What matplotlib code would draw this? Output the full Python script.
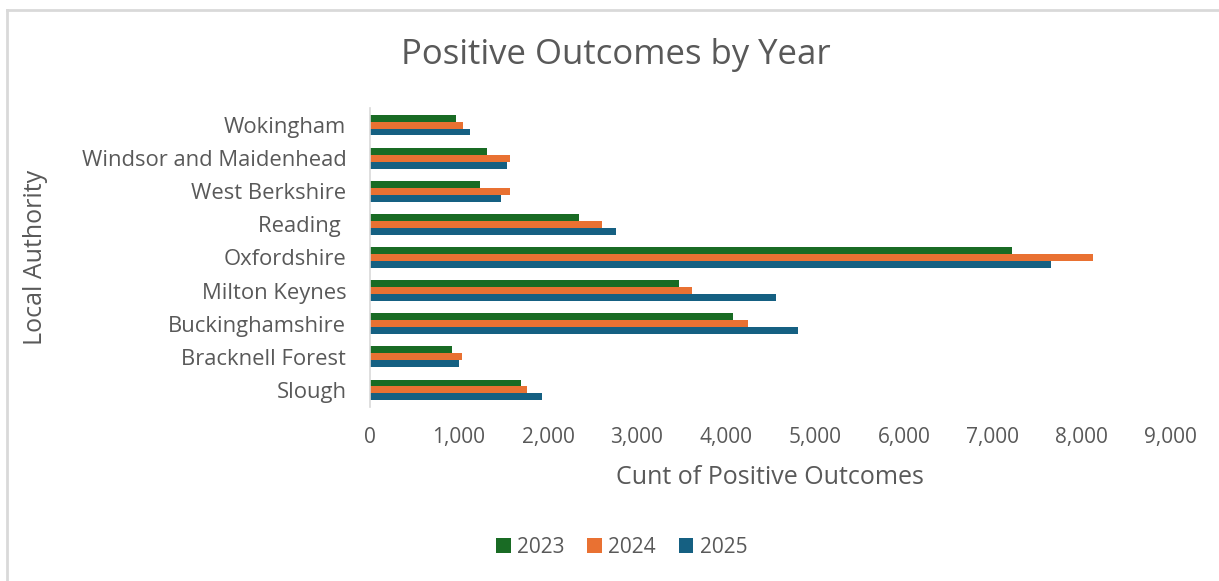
import matplotlib
matplotlib.use('Agg')
import matplotlib.pyplot as plt
import numpy as np
from matplotlib.lines import Line2D

# categories listed bottom to top, as they appear on the chart
authorities = ['Slough', 'Bracknell Forest', 'Buckinghamshire', 'Milton Keynes',
               'Oxfordshire', 'Reading ', 'West Berkshire', 'Windsor and Maidenhead',
               'Wokingham']

years = ['2023', '2024', '2025']
vals2023 = [1700, 921, 4075, 3472, 7213, 2348, 1239, 1311, 966]
vals2024 = [1767, 1034, 4247, 3614, 8120, 2607, 1570, 1570, 1048]
vals2025 = [1929, 1003, 4809, 4565, 7648, 2764, 1469, 1539, 1124]

colours = ['#196B24', '#E97132', '#156082']
txtColour = '#595959'

plt.rcParams['font.family'] = ['Open Sans', 'DejaVu Sans']

fig = plt.figure(figsize=(12.19, 5.81), dpi=100)
ax = fig.add_axes([0.3035, 0.3003, 0.657, 0.513])

y = np.arange(len(authorities))
barH = 0.21
# 2023 on top within each group, 2025 at the bottom
for offset, vals, col, lab in zip([barH, 0, -barH], [vals2023, vals2024, vals2025], colours, years):
    ax.barh(y + offset, vals, height=barH, color=col, label=lab)

ax.set_xlim(0, 9000)
ax.set_ylim(-0.5, len(authorities) - 0.5)
ax.set_xticks(np.arange(0, 9001, 1000))
ax.set_xticklabels(['{:,}'.format(v) for v in range(0, 9001, 1000)])
ax.set_yticks(y)
ax.set_yticklabels(authorities)
ax.tick_params(axis='both', length=0, colors=txtColour)
ax.tick_params(axis='x', pad=15, labelsize=15)
ax.tick_params(axis='y', pad=17, labelsize=15.8)

for side in ['top', 'right', 'bottom']:
    ax.spines[side].set_visible(False)
ax.spines['left'].set_color('#d9d9d9')
ax.spines['left'].set_linewidth(1.2)

ax.set_xlabel('Cunt of Positive Outcomes', fontsize=18, color=txtColour, labelpad=12)
fig.text(0.029, 0.557, 'Local Authority', rotation=90, fontsize=18, color=txtColour,
         ha='center', va='center')

fig.text(0.505, 0.905, 'Positive Outcomes by Year', fontsize=25, color=txtColour,
         ha='center', va='center')

handles, labels = ax.get_legend_handles_labels()
fig.legend(handles, labels, loc='center', bbox_to_anchor=(0.51, 0.058), ncol=3,
           frameon=False, fontsize=15, labelcolor=txtColour, handlelength=0.7,
           handleheight=0.7, handletextpad=0.3, columnspacing=1.1)

# light grey frame on top and left edges of the screenshot
fig.add_artist(Line2D([7 / 1219, 1], [1 - 10 / 581, 1 - 10 / 581], color='#d9d9d9', lw=2,
                      transform=fig.transFigure))
fig.add_artist(Line2D([7 / 1219, 7 / 1219], [0, 1 - 10 / 581], color='#d9d9d9', lw=2,
                      transform=fig.transFigure))

fig.savefig('out.png', dpi=100)
